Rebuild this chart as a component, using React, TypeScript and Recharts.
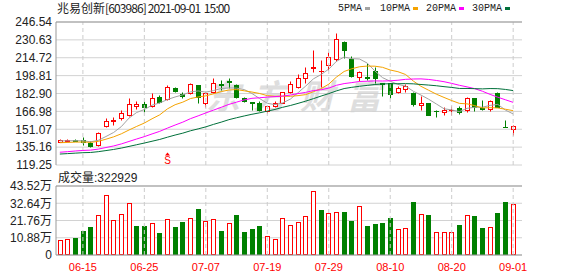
import { Bar, CartesianGrid, ComposedChart, Line, ReferenceDot, ReferenceLine, XAxis, YAxis } from 'recharts';

const dates = [
  '06-09', '06-10', '06-11', '06-15', '06-16', '06-17', '06-18', '06-21', '06-22', '06-23',
  '06-24', '06-25', '06-28', '06-29', '06-30', '07-01', '07-02', '07-05', '07-06', '07-07',
  '07-08', '07-09', '07-12', '07-13', '07-14', '07-15', '07-16', '07-19', '07-20', '07-21',
  '07-22', '07-23', '07-26', '07-27', '07-28', '07-29', '07-30', '08-02', '08-03', '08-04',
  '08-05', '08-06', '08-09', '08-10', '08-11', '08-12', '08-13', '08-16', '08-17', '08-18',
  '08-19', '08-20', '08-23', '08-24', '08-25', '08-26', '08-27', '08-30', '08-31', '09-01'
];

const opens = [
  140.0, 140.8, 141.7, 141.1, 139.1, 136.8, 154.0, 158.3, 161.0, 163.6,
  172.0, 173.6, 172.0, 180.0, 178.0, 187.4, 182.4, 183.5, 190.5, 174.2,
  184.5, 191.4, 194.4, 190.5, 179.2, 175.2, 174.7, 167.5, 171.8, 174.7,
  184.0, 189.0, 196.4, 205.7, 202.6, 208.3, 213.3, 229.0, 213.8, 197.9,
  197.6, 203.0, 192.0, 191.8, 184.5, 186.9, 183.5, 172.7, 174.3, 167.5,
  166.8, 167.8, 170.3, 168.2, 178.8, 169.8, 168.8, 183.6, 153.2, 151.6
];
const highs = [
  142.2, 142.0, 142.0, 144.4, 141.0, 148.2, 160.8, 161.7, 168.2, 178.6,
  176.0, 176.5, 183.0, 181.5, 190.5, 188.5, 184.5, 192.5, 190.5, 184.5,
  196.4, 194.9, 196.4, 191.5, 180.0, 175.6, 176.0, 172.0, 176.0, 184.5,
  194.0, 200.5, 206.7, 221.6, 212.7, 220.1, 237.0, 229.5, 216.5, 202.5,
  209.8, 206.7, 192.3, 192.5, 189.5, 191.0, 184.0, 180.7, 174.8, 168.2,
  171.2, 171.8, 171.5, 179.5, 179.0, 177.1, 177.1, 184.0, 159.3, 154.5
];
const lows = [
  139.5, 140.0, 140.5, 137.0, 135.3, 136.5, 153.3, 154.9, 159.3, 162.9,
  168.8, 166.2, 171.2, 174.7, 177.0, 184.0, 178.6, 182.4, 174.2, 171.2,
  183.5, 186.0, 187.5, 178.5, 175.5, 168.0, 167.5, 165.3, 170.5, 174.2,
  183.3, 187.5, 192.0, 202.3, 188.9, 203.8, 212.0, 214.5, 198.0, 194.2,
  194.9, 192.5, 181.0, 178.6, 183.5, 184.5, 172.0, 168.2, 163.5, 162.3,
  163.8, 163.8, 164.5, 166.7, 167.2, 168.3, 167.5, 170.5, 152.8, 146.0
];
const closes = [
  141.5, 141.6, 141.0, 139.7, 135.8, 148.0, 158.4, 159.0, 165.8, 173.6,
  173.4, 171.3, 178.6, 175.6, 188.4, 185.1, 180.8, 191.5, 180.1, 183.0,
  192.0, 190.6, 193.1, 179.8, 176.6, 174.3, 168.3, 171.8, 174.2, 184.0,
  191.0, 197.0, 201.5, 206.2, 203.2, 215.1, 231.3, 221.2, 198.6, 201.8,
  197.0, 196.5, 191.2, 182.5, 188.0, 189.5, 173.3, 174.2, 163.8, 167.0,
  168.2, 168.3, 166.5, 178.6, 171.2, 168.9, 176.2, 171.2, 152.8, 154.3
];

const ma5 = [
  140.7, 140.8, 140.9, 140.8, 139.9, 141.2, 144.6, 148.2, 153.4, 161.0,
  166.0, 168.6, 172.5, 174.5, 177.5, 179.8, 181.7, 184.3, 185.2, 184.1,
  185.5, 187.4, 187.8, 187.7, 186.4, 182.9, 178.4, 174.2, 173.0, 174.5,
  177.9, 183.6, 189.5, 195.9, 199.8, 204.6, 211.5, 215.4, 213.9, 213.6,
  210.0, 203.0, 197.0, 193.8, 191.0, 189.5, 184.9, 181.5, 177.8, 173.6,
  169.3, 168.3, 166.8, 169.7, 170.6, 170.7, 172.3, 173.2, 168.1, 164.7
];
const ma10 = [
  139.1, 139.3, 139.6, 139.7, 139.4, 140.3, 142.2, 144.3, 147.0, 150.4,
  153.6, 156.6, 160.4, 163.9, 169.2, 172.9, 175.2, 178.4, 179.8, 180.8,
  182.6, 184.6, 186.0, 186.4, 185.3, 184.2, 182.9, 181.0, 180.4, 180.5,
  180.4, 181.0, 181.9, 184.5, 187.2, 191.2, 197.5, 202.5, 204.9, 206.7,
  207.3, 207.2, 206.2, 203.8, 202.3, 199.8, 194.0, 189.3, 185.8, 182.3,
  179.4, 176.6, 174.1, 173.7, 172.1, 170.0, 170.3, 170.0, 168.9, 167.6
];
const ma20 = [
  130.6, 131.1, 131.7, 132.2, 132.5, 133.4, 134.8, 136.2, 138.0, 140.2,
  142.4, 144.5, 146.9, 149.2, 152.1, 154.8, 157.4, 160.5, 163.0, 165.6,
  168.1, 170.6, 173.2, 175.2, 177.2, 178.6, 179.1, 179.7, 180.1, 180.6,
  181.5, 182.8, 183.9, 185.5, 186.2, 187.7, 190.2, 191.7, 192.6, 193.6,
  193.8, 194.1, 194.0, 194.2, 194.7, 195.5, 195.8, 195.9, 195.4, 194.5,
  193.4, 191.9, 190.2, 188.8, 187.2, 184.9, 182.1, 179.6, 177.3, 175.0
];
const ma30 = [
  129.0, 129.4, 129.8, 130.2, 130.4, 131.1, 132.1, 133.1, 134.3, 135.8,
  137.3, 138.8, 140.4, 142.0, 144.0, 145.9, 147.6, 149.7, 151.4, 153.2,
  155.4, 157.4, 159.6, 161.3, 162.9, 164.4, 165.7, 167.2, 168.7, 170.6,
  172.2, 174.1, 176.1, 178.3, 180.6, 182.8, 185.2, 187.3, 188.4, 189.3,
  190.1, 190.9, 191.4, 191.6, 191.6, 191.7, 191.5, 190.9, 190.4, 189.8,
  189.0, 188.3, 187.4, 187.4, 187.2, 187.0, 187.3, 187.2, 186.5, 185.5
];

// volume in lots (手)
const volumes = [
  93100, 103900, 110200, 150100, 173600, 251500, 378200, 219800, 257800, 325600,
  181800, 181800, 198900, 139400, 224200, 173600, 207100, 230600, 289500, 213500,
  224200, 150100, 198900, 251500, 143800, 162800, 181800, 118500, 103900, 230600,
  188100, 205200, 245200, 403500, 283200, 262300, 268600, 270500, 213500, 308500,
  181800, 194500, 200800, 232500, 160900, 167200, 333800, 257800, 251500, 143800,
  148200, 148200, 188100, 251500, 245200, 169100, 173600, 266000, 333800, 322929
];

const priceTicks = [119.25, 135.16, 151.07, 166.98, 182.9, 198.81, 214.72, 230.63, 246.54];
const volumeTicks = [0, 108800, 217600, 326400, 435200];
const dateTicks = ['06-15', '06-25', '07-07', '07-19', '07-29', '08-10', '08-20', '09-01'];
const signalDate = '06-30';

const maSeries = [
  { key: 'ma5', label: '5PMA', color: '#a3a3a3' },
  { key: 'ma10', label: '10PMA', color: '#f5a300' },
  { key: 'ma20', label: '20PMA', color: '#ff00ff' },
  { key: 'ma30', label: '30PMA', color: '#00703a' }
];

const RED = '#ff0000';
const GREEN = '#008000';
const BORDER = '#999999';
const GRID = '#d2d2d2';
const SANS = 'Liberation Sans, Noto Sans CJK SC, sans-serif';
const CJK = '"Noto Sans CJK SC", "Liberation Sans", sans-serif';

const rows = dates.map((date, i) => ({
  date,
  open: opens[i],
  high: highs[i],
  low: lows[i],
  close: closes[i],
  range: [lows[i], highs[i]],
  ma5: ma5[i],
  ma10: ma10[i],
  ma20: ma20[i],
  ma30: ma30[i],
  volume: volumes[i],
  volUp: i === 0 ? closes[i] >= opens[i] : closes[i] >= closes[i - 1]
}));

function Candle(props: any) {
  const { x, y, width, height, payload } = props;
  if (!payload) return null;
  const { open, close, high, low } = payload;
  const up = close >= open;
  const color = up ? RED : GREEN;
  const span = high - low || 1;
  const py = (v: number) => y + ((high - v) / span) * height;
  const c = Math.round(x + width / 2) + 0.5;
  const top = Math.round(py(Math.max(open, close))) + 0.5;
  const bottom = Math.round(py(Math.min(open, close))) + 0.5;
  const hi = Math.round(py(high)) + 0.5;
  const lo = Math.round(py(low)) + 0.5;
  return (
    <g>
      {hi < top && <line x1={c} x2={c} y1={hi} y2={top} stroke={color} />}
      {lo > bottom && <line x1={c} x2={c} y1={bottom} y2={lo} stroke={color} />}
      {bottom - top < 1 ? (
        <line x1={c - 2.5} x2={c + 2.5} y1={top} y2={top} stroke={color} />
      ) : (
        <rect x={c - 2} y={top} width={4} height={bottom - top} fill={up ? '#fff' : GREEN} stroke={color} />
      )}
    </g>
  );
}

function VolumeBar(props: any) {
  const { x, y, width, height, payload } = props;
  if (!payload) return null;
  const c = Math.round(x + width / 2) + 0.5;
  const top = Math.round(y) + 0.5;
  const bottom = Math.round(y + height) - 0.5;
  const color = payload.volUp ? RED : GREEN;
  return <rect x={c - 2} y={top} width={4} height={Math.max(bottom - top, 0)} fill={payload.volUp ? '#fff' : GREEN} stroke={color} />;
}

const renderDateTick = (props: any) => (
  <g transform={`translate(${props.x},${props.y})`}>
    <text x={0} y={8} textAnchor="middle" fontSize={11} fontFamily={SANS} fill={RED} stroke="none">
      {props.payload.value}
    </text>
  </g>
);

function SignalMark(props: any) {
  const { cx, cy } = props;
  const c = Math.round(cx) + 0.5;
  return (
    <g>
      <path d={`M${c} ${cy - 12.5} L${c + 2.5} ${cy - 9.5} L${c - 2.5} ${cy - 9.5} Z`} fill={RED} />
      <text x={c} y={cy - 1} textAnchor="middle" fontSize={10} fontFamily={SANS} fill={RED}>
        S
      </text>
    </g>
  );
}

const priceFmt = (v: number) => v.toFixed(2);
const volFmt = (v: number) => (v === 0 ? '0' : `${(v / 10000).toFixed(2)}万`);

export default function App() {
  return (
    <div style={{ position: 'absolute', left: 0, top: 0, width: 578, height: 276, background: '#fff', overflow: 'hidden' }}>
      <div
        style={{
          position: 'absolute',
          left: 206,
          top: 76,
          fontFamily: CJK,
          fontWeight: 700,
          fontSize: 34,
          lineHeight: '38px',
          letterSpacing: 13,
          color: '#dedede',
          fontStyle: 'italic',
          whiteSpace: 'nowrap'
        }}
      >
        东方财富
      </div>

      <div style={{ position: 'absolute', left: 57, top: 2, fontFamily: CJK, fontSize: 12, lineHeight: '12px', color: '#222', whiteSpace: 'pre' }}>
        兆易创新<span style={{ letterSpacing: -0.9 }}>[603986] 2021-09-01  15:00</span>
      </div>

      {maSeries.map((s, i) => (
        <div key={s.key} style={{ position: 'absolute', left: [338, 380, 426, 472][i], top: 3, display: 'flex', alignItems: 'center', whiteSpace: 'nowrap' }}>
          <span style={{ fontFamily: '"Liberation Mono", monospace', fontSize: 10, lineHeight: '11px', color: '#222' }}>{s.label}</span>
          <span style={{ display: 'inline-block', width: 5, height: 3, marginLeft: 3, background: s.color }} />
        </div>
      ))}

      <div style={{ position: 'absolute', left: 0, top: 0 }}>
        <ComposedChart width={578} height={172} data={rows} margin={{ top: 22, right: 56, bottom: 7, left: 0 }}>
          <CartesianGrid horizontal vertical={false} stroke={GRID} />
          <XAxis dataKey="date" padding={{ left: 0, right: 5 }} height={0} tick={false} tickLine={false} axisLine={{ stroke: BORDER }} />
          <YAxis
            domain={[119.25, 246.54]}
            ticks={priceTicks}
            interval={0}
            width={56}
            tickSize={2}
            tickMargin={2}
            tickLine={false}
            axisLine={{ stroke: BORDER }}
            tickFormatter={priceFmt}
            tick={{ fontSize: 12, fill: '#222', fontFamily: SANS }}
          />
          <YAxis yAxisId="r" orientation="right" width={0} domain={[0, 1]} tick={false} tickLine={false} axisLine={{ stroke: BORDER }} />
          {dateTicks.map((d) => (
            <ReferenceLine key={d} x={d} stroke="#cccccc" strokeDasharray="4 3" />
          ))}
          <ReferenceLine y={246.54} stroke={BORDER} />
          <Bar dataKey="range" barSize={5} shape={Candle} isAnimationActive={false} />
          {maSeries.map((s) => (
            <Line key={s.key} type="linear" dataKey={s.key} stroke={s.color} strokeWidth={1} dot={false} activeDot={false} isAnimationActive={false} />
          ))}
          <ReferenceDot x={signalDate} y={119.25} r={0} ifOverflow="visible" shape={SignalMark} />
        </ComposedChart>
      </div>

      <div style={{ position: 'absolute', left: 58, top: 171, fontFamily: CJK, fontSize: 12, lineHeight: '12px', color: '#222', whiteSpace: 'nowrap' }}>
        成交量<span style={{ fontFamily: SANS }}>:322929</span>
      </div>

      <div style={{ position: 'absolute', left: 0, top: 170 }}>
        <ComposedChart width={578} height={106} data={rows} margin={{ top: 16, right: 56, bottom: 0, left: 0 }}>
          <CartesianGrid horizontal vertical={false} stroke={GRID} />
          <XAxis
            dataKey="date"
            padding={{ left: 0, right: 5 }}
            height={21}
            ticks={dateTicks}
            interval={0}
            tickSize={6}
            tickMargin={2}
            tickLine={false}
            axisLine={{ stroke: BORDER }}
            tick={renderDateTick}
          />
          <YAxis
            domain={[0, 435200]}
            ticks={volumeTicks}
            interval={0}
            width={56}
            tickSize={2}
            tickMargin={2}
            tickLine={false}
            axisLine={{ stroke: BORDER }}
            tickFormatter={volFmt}
            tick={{ fontSize: 12, fill: '#222', fontFamily: SANS }}
          />
          <YAxis yAxisId="r" orientation="right" width={0} domain={[0, 1]} tick={false} tickLine={false} axisLine={{ stroke: BORDER }} />
          {dateTicks.map((d) => (
            <ReferenceLine key={d} x={d} stroke="#cccccc" strokeDasharray="4 3" />
          ))}
          <ReferenceLine y={435200} stroke={BORDER} />
          <Bar dataKey="volume" barSize={5} shape={VolumeBar} isAnimationActive={false} />
        </ComposedChart>
      </div>
    </div>
  );
}
